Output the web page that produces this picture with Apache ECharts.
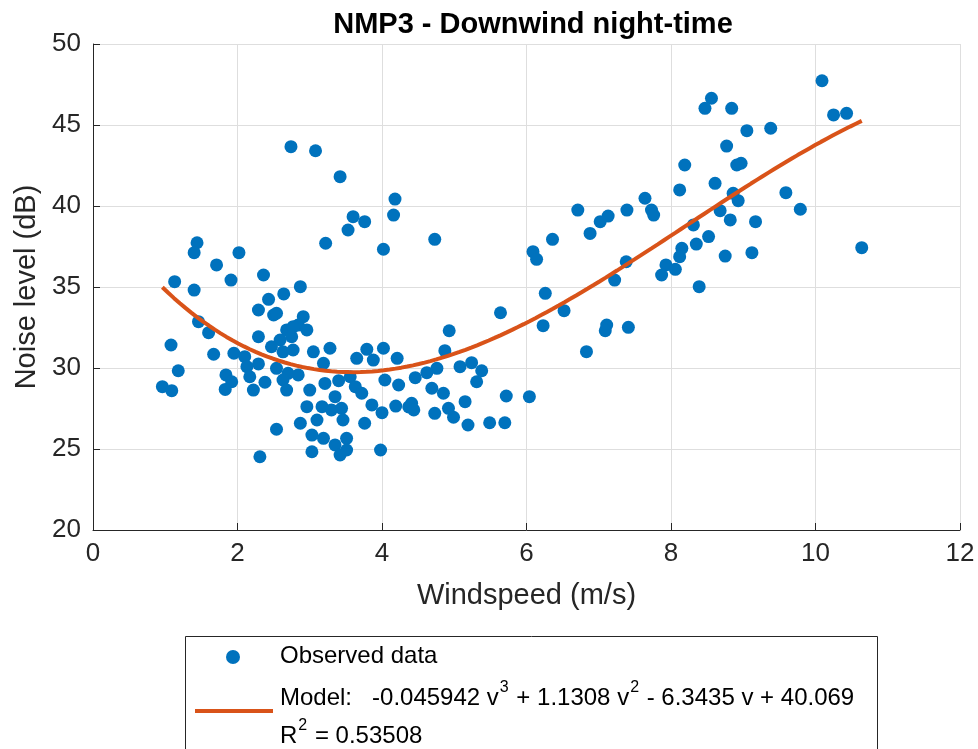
<!DOCTYPE html>
<html>
<head>
<meta charset="utf-8">
<title>NMP3 - Downwind night-time</title>
<script src="https://cdn.jsdelivr.net/npm/echarts@6/dist/echarts.min.js"></script>
<style>
  html, body { margin: 0; padding: 0; background: #ffffff; }
  #chart { width: 978px; height: 749px; }
</style>
</head>
<body>
<div id="chart"></div>
<script>
// Observed wind speed (m/s) and noise level (dB) pairs
const windSpeed = [
  1.44, 1.40, 2.02, 1.71, 1.13, 1.91, 2.36, 1.40, 2.64, 2.43,
  2.29, 2.50, 1.46, 1.60, 1.08, 2.29, 1.67, 1.95, 2.10, 1.18,
  2.29, 2.13, 1.84, 1.92, 1.83, 0.96, 1.09, 2.22, 2.38, 2.17,
  2.54, 2.31, 2.54, 2.91, 2.84, 2.96, 2.68, 2.59, 2.75, 2.47,
  2.63, 2.77, 3.05, 3.28, 3.19, 2.54, 2.70, 2.84, 2.63, 3.00,
  2.68, 3.21, 2.87, 2.77, 2.74, 3.08, 3.42, 4.18, 4.16, 3.60,
  3.76, 3.53, 3.22, 4.02, 3.65, 3.79, 4.02, 3.88, 4.21, 3.40,
  3.56, 3.63, 3.72, 4.04, 4.23, 3.86, 4.00, 4.19, 3.35, 2.96,
  3.17, 3.30, 3.44, 2.87, 3.10, 3.46, 3.76, 3.03, 3.19, 3.51,
  3.35, 3.03, 3.42, 3.51, 3.98, 4.37, 4.73, 6.09, 6.14, 6.36,
  6.71, 6.26, 6.52, 6.23, 5.64, 4.93, 4.87, 4.76, 5.08, 5.24,
  5.38, 5.31, 4.46, 4.62, 4.69, 4.85, 4.41, 4.44, 4.73, 4.99,
  4.92, 5.15, 5.19, 5.49, 5.70, 5.72, 6.04, 8.77, 8.19, 8.91,
  8.12, 8.61, 8.86, 7.64, 7.39, 7.73, 7.76, 7.13, 7.02, 6.88,
  8.68, 8.82, 8.31, 8.52, 8.35, 8.15, 8.12, 7.93, 8.06, 7.87,
  8.75, 8.39, 7.38, 7.22, 7.11, 7.09, 7.41, 6.83, 10.09, 10.25,
  10.43, 8.56, 8.47, 8.84, 9.05, 9.38, 8.97, 8.93, 9.59, 9.79,
  9.17, 9.12, 10.64
];
const noiseLevel = [
  37.73, 37.12, 37.12, 36.36, 35.33, 35.43, 35.74, 34.81, 34.57, 34.24,
  33.58, 33.27, 32.86, 32.18, 31.42, 31.93, 30.85, 30.91, 30.70, 29.83,
  30.25, 30.08, 29.57, 29.15, 28.68, 28.85, 28.60, 28.64, 29.12, 29.46,
  26.22, 24.52, 33.38, 33.17, 32.65, 32.35, 32.35, 31.73, 31.93, 31.31,
  31.00, 31.11, 31.00, 31.22, 30.29, 29.98, 29.67, 29.57, 29.26, 28.64,
  28.64, 29.05, 35.02, 32.55, 43.66, 43.41, 41.81, 40.43, 39.44, 39.34,
  39.03, 38.52, 37.70, 37.33, 30.60, 31.15, 31.22, 30.49, 30.60, 29.22,
  29.46, 28.85, 28.44, 29.26, 28.95, 27.72, 27.24, 27.65, 28.23, 27.61,
  27.61, 27.41, 27.51, 26.59, 26.79, 26.79, 26.59, 25.86, 25.66, 25.66,
  25.25, 24.83, 24.63, 24.94, 24.94, 27.60, 37.94, 37.18, 36.71, 37.94,
  39.75, 34.61, 33.54, 32.61, 33.41, 32.30, 31.07, 29.98, 30.08, 30.33,
  29.83, 29.15, 29.40, 29.71, 28.75, 28.44, 27.82, 27.41, 27.20, 26.96,
  27.51, 27.92, 26.48, 26.62, 26.62, 28.27, 28.23, 43.70, 42.53, 42.53,
  40.99, 41.40, 40.78, 40.48, 39.75, 39.75, 39.44, 39.38, 39.03, 38.31,
  39.71, 39.14, 38.83, 38.11, 37.65, 37.39, 36.87, 36.36, 36.09, 35.74,
  36.91, 35.02, 36.56, 35.43, 32.65, 32.30, 32.51, 31.01, 47.73, 45.62,
  45.72, 46.65, 46.03, 46.03, 44.65, 44.80, 42.64, 40.33, 40.82, 39.80,
  39.03, 37.12, 37.43
];

// Cubic model coefficients: a*v^3 + b*v^2 + c*v + d
const modelCoef = [-0.045942, 1.1308, -6.3435, 40.069];
const rSquared = 0.53508;

// Axis ticks
const xTicks = [0, 2, 4, 6, 8, 10, 12];
const yTicks = [20, 25, 30, 35, 40, 45, 50];

const observed = windSpeed.map((v, i) => [v, noiseLevel[i]]);

// Model curve evaluated across the observed wind-speed range
const vMin = Math.min(...windSpeed);
const vMax = Math.max(...windSpeed);
const modelCurve = [];
const steps = 120;
for (let k = 0; k <= steps; k++) {
  const v = vMin + (vMax - vMin) * k / steps;
  const y = ((modelCoef[0] * v + modelCoef[1]) * v + modelCoef[2]) * v + modelCoef[3];
  modelCurve.push([v, y]);
}

// Legend equation as rich text with raised exponents
const modelRich = '{t|Model:   ' + modelCoef[0] + ' v}{s|3}{t| + ' + modelCoef[1] +
  ' v}{s|2}{t| - ' + Math.abs(modelCoef[2]) + ' v + ' + modelCoef[3] + '}';
const rSqRich = '{t|R}{s|2}{t| = ' + rSquared + '}';

const FONT = '"Liberation Sans", Arial, Helvetica, sans-serif';
const INK = '#262626';
const BLUE = '#0072BD';
const ORANGE = '#D95319';

const legendRich = {
  t: { fontFamily: FONT, fontSize: 24, color: '#000000', lineHeight: 30, verticalAlign: 'bottom' },
  s: { fontFamily: FONT, fontSize: 16, color: '#000000', lineHeight: 30, verticalAlign: 'top', padding: [0, 1, 0, 1] }
};

const chart = echarts.init(document.getElementById('chart'), null, { renderer: 'canvas' });

chart.setOption({
  animation: false,
  backgroundColor: '#ffffff',
  textStyle: { fontFamily: FONT },
  title: {
    text: 'NMP3 - Downwind night-time',
    left: 528,
    top: 5,
    textAlign: 'center',
    textStyle: { fontFamily: FONT, fontSize: 29, fontWeight: 'bold', color: '#000000' }
  },
  grid: { left: 93, right: 18, top: 44, bottom: 219, containLabel: false },
  xAxis: {
    type: 'value',
    min: xTicks[0],
    max: xTicks[xTicks.length - 1],
    interval: xTicks[1] - xTicks[0],
    name: 'Windspeed (m/s)',
    nameLocation: 'middle',
    nameGap: 51,
    nameTextStyle: { fontFamily: FONT, fontSize: 29, color: INK },
    axisLine: { show: true, onZero: false, lineStyle: { color: INK, width: 1 } },
    axisTick: { show: true, inside: true, length: 7, lineStyle: { color: INK } },
    axisLabel: { fontFamily: FONT, fontSize: 26, color: INK, margin: 11 },
    splitLine: { show: true, lineStyle: { color: '#dedede', width: 1 } }
  },
  yAxis: {
    type: 'value',
    min: yTicks[0],
    max: yTicks[yTicks.length - 1],
    interval: yTicks[1] - yTicks[0],
    name: 'Noise level (dB)',
    nameLocation: 'middle',
    nameGap: 52,
    nameTextStyle: { fontFamily: FONT, fontSize: 29, color: INK },
    axisLine: { show: true, onZero: false, lineStyle: { color: INK, width: 1 } },
    axisTick: { show: true, inside: true, length: 7, lineStyle: { color: INK } },
    axisLabel: { fontFamily: FONT, fontSize: 26, color: INK, margin: 12 },
    splitLine: { show: true, lineStyle: { color: '#dedede', width: 1 } }
  },
  series: [
    {
      name: 'Observed data',
      type: 'scatter',
      data: observed,
      symbol: 'circle',
      symbolSize: 13,
      itemStyle: { color: BLUE, opacity: 1 },
      z: 2
    },
    {
      name: 'Model',
      type: 'line',
      data: modelCurve,
      showSymbol: false,
      symbol: 'none',
      smooth: false,
      lineStyle: { color: ORANGE, width: 4 },
      z: 3
    }
  ],
  graphic: [
    // Legend box
    {
      type: 'rect',
      left: 185, top: 636,
      shape: { width: 692, height: 130 },
      style: { fill: '#ffffff', stroke: INK, lineWidth: 1 }
    },
    {
      type: 'circle',
      shape: { cx: 233, cy: 657, r: 7 },
      style: { fill: BLUE }
    },
    {
      type: 'line',
      shape: { x1: 195, y1: 711, x2: 273, y2: 711 },
      style: { stroke: ORANGE, lineWidth: 4 }
    },
    {
      type: 'text',
      left: 280, top: 644,
      style: { text: 'Observed data', font: '24px ' + FONT, fill: '#000000' }
    },
    {
      type: 'text',
      left: 280, top: 680,
      style: { text: modelRich, rich: legendRich }
    },
    {
      type: 'text',
      left: 280, top: 718,
      style: { text: rSqRich, rich: legendRich }
    }
  ]
});
</script>
</body>
</html>
